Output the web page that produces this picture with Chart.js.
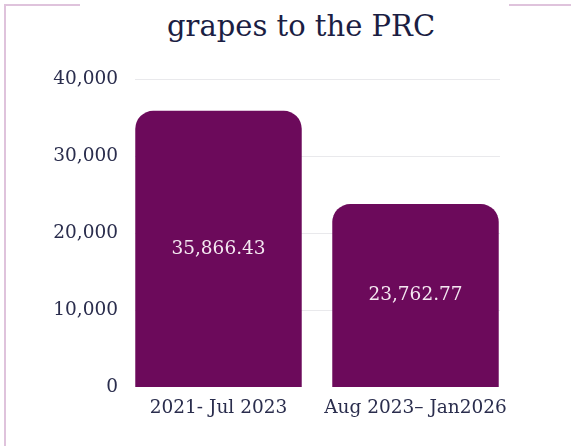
<!DOCTYPE html>
<html>
<head>
<meta charset="utf-8">
<script src="https://cdn.jsdelivr.net/npm/chart.js@4/dist/chart.umd.min.js"></script>
<style>
  html, body { margin: 0; padding: 0; background: #ffffff; }
  #wrap { position: relative; width: 571px; height: 446px; overflow: hidden; }
  #chart { position: absolute; left: 0; top: 0; }
  .frame { position: absolute; background: #dfc3dc; }
  #title {
    position: absolute; left: 167px; top: 12px; margin: 0;
    font-family: "DejaVu Serif", serif; font-size: 29px; line-height: 29px;
    font-weight: normal; color: #1b1e43; white-space: nowrap;
  }
</style>
</head>
<body>
<div id="wrap">
  <div class="frame" style="left:4px; top:4px; width:76px; height:2px;"></div>
  <div class="frame" style="left:4px; top:4px; width:2px; height:442px;"></div>
  <div class="frame" style="left:509px; top:4px; width:62px; height:2px;"></div>
  <h1 id="title">grapes to the PRC</h1>
  <canvas id="chart" width="571" height="446"></canvas>
</div>
<script>
// Export value per period
const periods = ["2021- Jul 2023", "Aug 2023\u2013 Jan2026"];
const exportValues = [35866.43, 23762.77];
const yTicks = [0, 10000, 20000, 30000, 40000];

const SERIF = '"DejaVu Serif", serif';
const INK = '#2a2d4d';
const PLUM = '#6c0a5b';

const fmtValue = v => v.toLocaleString('en-US', { minimumFractionDigits: 2, maximumFractionDigits: 2 });

// Faint horizontal guides, inset a little from the plot edges, skipping the baseline
const guides = {
  id: 'guides',
  beforeDatasetsDraw(chart) {
    const { ctx, chartArea, scales } = chart;
    ctx.save();
    ctx.strokeStyle = '#e9e9ec';
    ctx.lineWidth = 1;
    yTicks.forEach(t => {
      if (t === 0) return;
      const y = Math.round(scales.y.getPixelForValue(t)) + 0.5;
      ctx.beginPath();
      ctx.moveTo(chartArea.left + 15, y);
      ctx.lineTo(chartArea.right - 14, y);
      ctx.stroke();
    });
    ctx.restore();
  }
};

// Value written in the middle of each bar
const barValues = {
  id: 'barValues',
  afterDatasetsDraw(chart) {
    const { ctx } = chart;
    const meta = chart.getDatasetMeta(0);
    ctx.save();
    ctx.font = '18.5px ' + SERIF;
    ctx.fillStyle = '#f4e8f1';
    ctx.textAlign = 'center';
    ctx.textBaseline = 'middle';
    meta.data.forEach((bar, i) => {
      const p = bar.getProps(['x', 'y', 'base'], true);
      ctx.fillText(fmtValue(exportValues[i]), p.x, (p.y + p.base) / 2);
    });
    ctx.restore();
  }
};

new Chart(document.getElementById('chart'), {
  type: 'bar',
  data: {
    labels: periods,
    datasets: [{
      data: exportValues,
      backgroundColor: PLUM,
      borderRadius: { topLeft: 18, topRight: 18, bottomLeft: 0, bottomRight: 0 },
      borderSkipped: 'bottom',
      barPercentage: 0.845,
      categoryPercentage: 1.0
    }]
  },
  options: {
    responsive: false,
    animation: false,
    devicePixelRatio: 1,
    layout: { padding: { top: 79, right: 57, bottom: 0, left: 0 } },
    plugins: {
      legend: { display: false },
      title: { display: false },
      tooltip: { enabled: false }
    },
    scales: {
      x: {
        grid: { display: false, drawTicks: false },
        border: { display: false },
        ticks: {
          color: INK,
          font: { family: SERIF, size: 18.5 },
          padding: 10,
          maxRotation: 0
        },
        afterFit(scale) { scale.height = 59; }
      },
      y: {
        min: 0,
        max: 40000,
        afterBuildTicks(scale) { scale.ticks = yTicks.map(v => ({ value: v })); },
        grid: { display: false, drawTicks: false },
        border: { display: false },
        ticks: {
          color: INK,
          font: { family: SERIF, size: 18.5 },
          padding: 2,
          callback: v => v.toLocaleString('en-US')
        },
        afterFit(scale) { scale.width = 120; }
      }
    }
  },
  plugins: [guides, barValues]
});
</script>
</body>
</html>
